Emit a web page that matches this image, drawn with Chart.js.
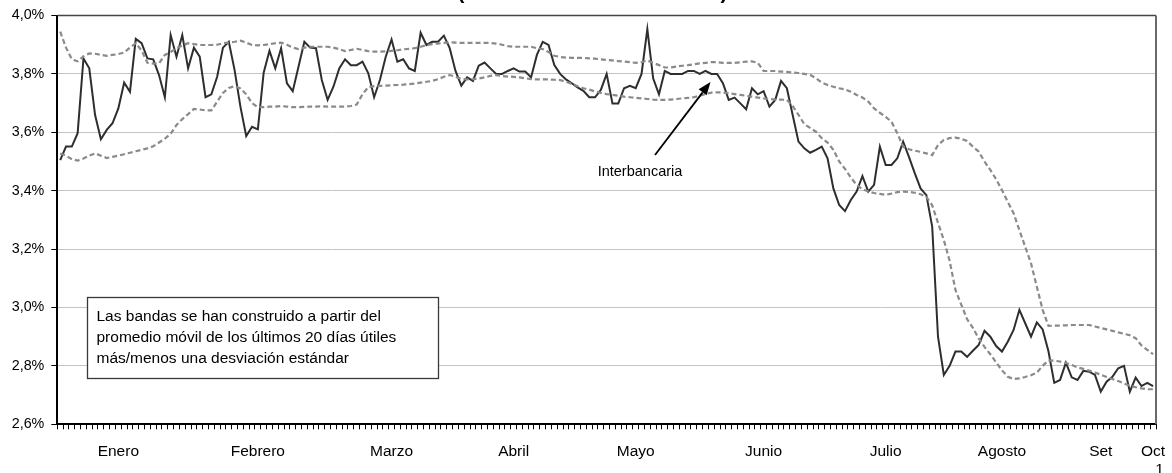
<!DOCTYPE html>
<html>
<head>
<meta charset="utf-8">
<script src="https://cdn.jsdelivr.net/npm/chart.js@4.4.1/dist/chart.umd.min.js"></script>
<style>
html,body{margin:0;padding:0;background:#fff;}
canvas{display:block;}
</style>
</head>
<body>
<canvas id="c" width="1172" height="473"></canvas>
<script>
// Month labels and the category index where each one sits
const monthNames = ["Enero","Febrero","Marzo","Abril","Mayo","Junio","Julio","Agosto","Set",["Oct","   1"]];
const monthIndex = [10, 34, 57, 78, 99, 121, 142, 162, 179, 188];

// Tasa interbancaria (%), one value per business day
const interbancaria = [3.505,3.551,3.551,3.597,3.853,3.819,3.659,3.576,3.608,3.631,
3.682,3.770,3.739,3.920,3.905,3.853,3.850,3.796,3.720,3.933,
3.859,3.933,3.819,3.890,3.859,3.720,3.730,3.790,3.890,3.910,
3.813,3.688,3.587,3.619,3.610,3.804,3.879,3.819,3.888,3.768,
3.741,3.825,3.910,3.890,3.888,3.779,3.711,3.756,3.819,3.850,
3.830,3.830,3.842,3.802,3.720,3.779,3.859,3.918,3.842,3.850,
3.819,3.810,3.941,3.899,3.910,3.910,3.931,3.888,3.810,3.760,
3.788,3.776,3.828,3.839,3.819,3.800,3.800,3.810,3.819,3.808,
3.808,3.788,3.865,3.910,3.899,3.830,3.800,3.781,3.768,3.754,
3.742,3.720,3.720,3.745,3.800,3.699,3.699,3.751,3.759,3.751,
3.800,3.953,3.785,3.730,3.810,3.800,3.800,3.800,3.810,3.810,
3.800,3.810,3.800,3.800,3.768,3.711,3.719,3.699,3.679,3.751,
3.730,3.741,3.688,3.711,3.776,3.751,3.659,3.568,3.545,3.530,
3.540,3.551,3.511,3.408,3.351,3.330,3.368,3.397,3.450,3.397,
3.420,3.551,3.488,3.488,3.511,3.568,3.516,3.460,3.408,3.385,
3.277,2.900,2.769,2.800,2.849,2.849,2.831,2.852,2.872,2.920,
2.900,2.868,2.849,2.883,2.923,2.992,2.946,2.900,2.949,2.925,
2.850,2.742,2.752,2.811,2.761,2.752,2.783,2.780,2.769,2.712,
2.746,2.763,2.792,2.800,2.712,2.760,2.731,2.742,2.731];

// Banda superior (promedio móvil + 1 desviación)
const bandaSuperior = [3.945,3.89,3.85,3.843,3.86,3.87,3.869,3.865,3.862,3.865,
3.868,3.873,3.89,3.905,3.88,3.838,3.835,3.836,3.865,3.875,
3.888,3.897,3.905,3.902,3.899,3.899,3.899,3.9,3.905,3.907,
3.91,3.914,3.907,3.899,3.898,3.899,3.902,3.905,3.907,3.9,
3.89,3.885,3.89,3.893,3.893,3.893,3.893,3.89,3.885,3.878,
3.882,3.886,3.882,3.878,3.876,3.876,3.877,3.879,3.881,3.884,
3.886,3.888,3.893,3.898,3.902,3.904,3.906,3.908,3.907,3.906,
3.906,3.906,3.906,3.906,3.906,3.904,3.9,3.895,3.893,3.893,
3.893,3.893,3.888,3.885,3.875,3.862,3.858,3.856,3.855,3.855,
3.855,3.853,3.852,3.85,3.848,3.846,3.844,3.842,3.84,3.838,
3.84,3.846,3.838,3.83,3.822,3.822,3.825,3.828,3.83,3.833,
3.836,3.838,3.84,3.84,3.838,3.838,3.838,3.84,3.842,3.843,
3.838,3.81,3.81,3.81,3.808,3.807,3.805,3.803,3.8,3.797,
3.785,3.77,3.762,3.756,3.751,3.747,3.739,3.728,3.719,3.705,
3.682,3.667,3.653,3.636,3.597,3.551,3.542,3.537,3.533,3.528,
3.522,3.556,3.574,3.58,3.582,3.578,3.57,3.551,3.534,3.5,
3.471,3.439,3.402,3.362,3.323,3.265,3.208,3.151,3.071,2.992,
2.937,2.938,2.938,2.939,2.94,2.94,2.94,2.94,2.935,2.93,
2.925,2.92,2.915,2.91,2.905,2.895,2.87,2.855,2.84];

// Banda inferior (promedio móvil - 1 desviación)
const bandaInferior = [3.527,3.52,3.508,3.503,3.51,3.52,3.528,3.52,3.512,3.516,
3.52,3.525,3.53,3.535,3.54,3.545,3.552,3.565,3.578,3.595,
3.625,3.645,3.662,3.68,3.678,3.675,3.675,3.705,3.735,3.752,
3.758,3.75,3.73,3.7,3.686,3.686,3.688,3.688,3.69,3.688,
3.686,3.686,3.687,3.688,3.688,3.689,3.688,3.688,3.688,3.688,
3.69,3.695,3.73,3.755,3.758,3.759,3.76,3.761,3.762,3.763,
3.765,3.767,3.77,3.773,3.776,3.782,3.79,3.796,3.79,3.783,
3.781,3.782,3.784,3.788,3.793,3.796,3.793,3.791,3.79,3.788,
3.785,3.782,3.781,3.781,3.781,3.78,3.779,3.773,3.766,3.758,
3.751,3.746,3.74,3.735,3.731,3.728,3.725,3.722,3.72,3.718,
3.716,3.714,3.712,3.711,3.711,3.712,3.714,3.716,3.718,3.72,
3.725,3.731,3.736,3.737,3.736,3.734,3.731,3.728,3.725,3.722,
3.719,3.716,3.714,3.712,3.712,3.711,3.69,3.66,3.628,3.615,
3.602,3.58,3.565,3.54,3.5,3.475,3.445,3.42,3.405,3.397,
3.392,3.389,3.386,3.39,3.395,3.397,3.396,3.393,3.388,3.379,
3.35,3.29,3.231,3.16,3.06,3.01,2.96,2.93,2.894,2.865,
2.84,2.812,2.785,2.763,2.755,2.757,2.762,2.768,2.777,2.8,
2.819,2.818,2.815,2.81,2.803,2.795,2.79,2.784,2.777,2.77,
2.762,2.755,2.748,2.74,2.732,2.727,2.723,2.72,2.72];

const yMin = 2.6, yMax = 4.0, yStep = 0.2;
const titleText = "(Enero - Octubre 1 de 2003)";
const noteLines = ["Las bandas se han construido a partir del",
                   "promedio móvil de los últimos 20 días útiles",
                   "más/menos una desviación estándar"];
const seriesLabel = "Interbancaria";

// category labels built from the month list
const categories = interbancaria.map(() => "");
monthIndex.forEach((idx, k) => { categories[idx] = monthNames[k]; });

const FONT = "Arial, 'Liberation Sans', sans-serif";

const extras = {
  id: 'extras',
  afterDraw(chart) {
    const ctx = chart.ctx;
    const a = chart.chartArea;
    ctx.save();
    // plot frame top & right
    ctx.strokeStyle = '#454545';
    ctx.lineWidth = 1.5;
    ctx.beginPath();
    ctx.moveTo(a.left, a.top);
    ctx.lineTo(a.right, a.top);
    ctx.stroke();
    ctx.strokeStyle = '#6a6a6a';
    ctx.lineWidth = 2;
    ctx.beginPath();
    ctx.moveTo(a.right, a.top);
    ctx.lineTo(a.right, a.bottom);
    ctx.stroke();

    // title (mostly above the visible area)
    ctx.fillStyle = '#000';
    ctx.textAlign = 'center';
    ctx.textBaseline = 'alphabetic';
    ctx.font = "bold 18px " + FONT;
    const w = ctx.measureText(titleText).width;
    const fs = 18 * 270 / w;
    ctx.font = "bold " + fs.toFixed(2) + "px " + FONT;
    ctx.fillText(titleText, 592.5, -1);

    // note box
    const bx = 87.5, by = 297.5, bw = 351, bh = 81;
    ctx.fillStyle = '#fff';
    ctx.fillRect(bx, by, bw, bh);
    ctx.strokeStyle = '#3a3a3a';
    ctx.lineWidth = 1.3;
    ctx.strokeRect(bx, by, bw, bh);
    ctx.fillStyle = '#000';
    ctx.textAlign = 'left';
    ctx.textBaseline = 'middle';
    ctx.font = "15.5px " + FONT;
    noteLines.forEach((t, k) => ctx.fillText(t, 96.5, 317 + k * 20.8));

    // series label + arrow
    ctx.textAlign = 'center';
    ctx.font = "14.5px " + FONT;
    ctx.fillText(seriesLabel, 640, 172);
    const x0 = 655, y0 = 155, x1 = 710.5, y1 = 82;
    const ang = Math.atan2(y1 - y0, x1 - x0);
    const hl = 13, hw = 5;
    const bxp = x1 - hl * Math.cos(ang), byp = y1 - hl * Math.sin(ang);
    ctx.strokeStyle = '#000';
    ctx.lineWidth = 1.8;
    ctx.beginPath();
    ctx.moveTo(x0, y0);
    ctx.lineTo(bxp, byp);
    ctx.stroke();
    ctx.beginPath();
    ctx.moveTo(x1, y1);
    ctx.lineTo(bxp + hw * Math.sin(ang), byp - hw * Math.cos(ang));
    ctx.lineTo(bxp - hw * Math.sin(ang), byp + hw * Math.cos(ang));
    ctx.closePath();
    ctx.fillStyle = '#000';
    ctx.fill();
    ctx.restore();
  }
};

new Chart(document.getElementById('c'), {
  type: 'line',
  data: {
    labels: categories,
    datasets: [
      { label: 'Banda superior', data: bandaSuperior, borderColor: '#8a8a8a', borderWidth: 2.2,
        borderDash: [5, 3], pointRadius: 0, tension: 0, fill: false },
      { label: 'Banda inferior', data: bandaInferior, borderColor: '#8a8a8a', borderWidth: 2.2,
        borderDash: [5, 3], pointRadius: 0, tension: 0, fill: false },
      { label: 'Interbancaria', data: interbancaria, borderColor: '#2e2e2e', borderWidth: 2,
        pointRadius: 0, tension: 0, fill: false }
    ]
  },
  options: {
    responsive: false,
    animation: false,
    events: [],
    layout: { padding: { left: 0, right: 16, top: 15.5, bottom: 0 } },
    plugins: { legend: { display: false }, tooltip: { enabled: false }, title: { display: false } },
    scales: {
      x: {
        type: 'category',
        offset: true,
        afterFit(s) { s.height = 48.7; s.paddingLeft = 0; s.paddingRight = 0; },
        border: { color: '#000', width: 2 },
        grid: { drawOnChartArea: false, drawTicks: true, tickLength: 5, color: '#000', lineWidth: 1, offset: true },
        ticks: { autoSkip: false, maxRotation: 0, minRotation: 0, padding: 14, color: '#000',
                 font: { family: FONT, size: 15.5, lineHeight: 1.12 } }
      },
      y: {
        min: yMin, max: yMax,
        afterFit(s) { s.width = 57.3; s.paddingTop = 0; s.paddingBottom = 0; },
        border: { color: '#000', width: 2 },
        grid: { color: '#c4c4c4', lineWidth: 1, tickColor: '#000', tickLength: 6, drawTicks: true },
        ticks: { stepSize: yStep, padding: 7, color: '#000',
                 font: { family: FONT, size: 14.3 },
                 callback: v => v.toFixed(1).replace('.', ',') + '%' }
      }
    }
  },
  plugins: [extras]
});
</script>
</body>
</html>
